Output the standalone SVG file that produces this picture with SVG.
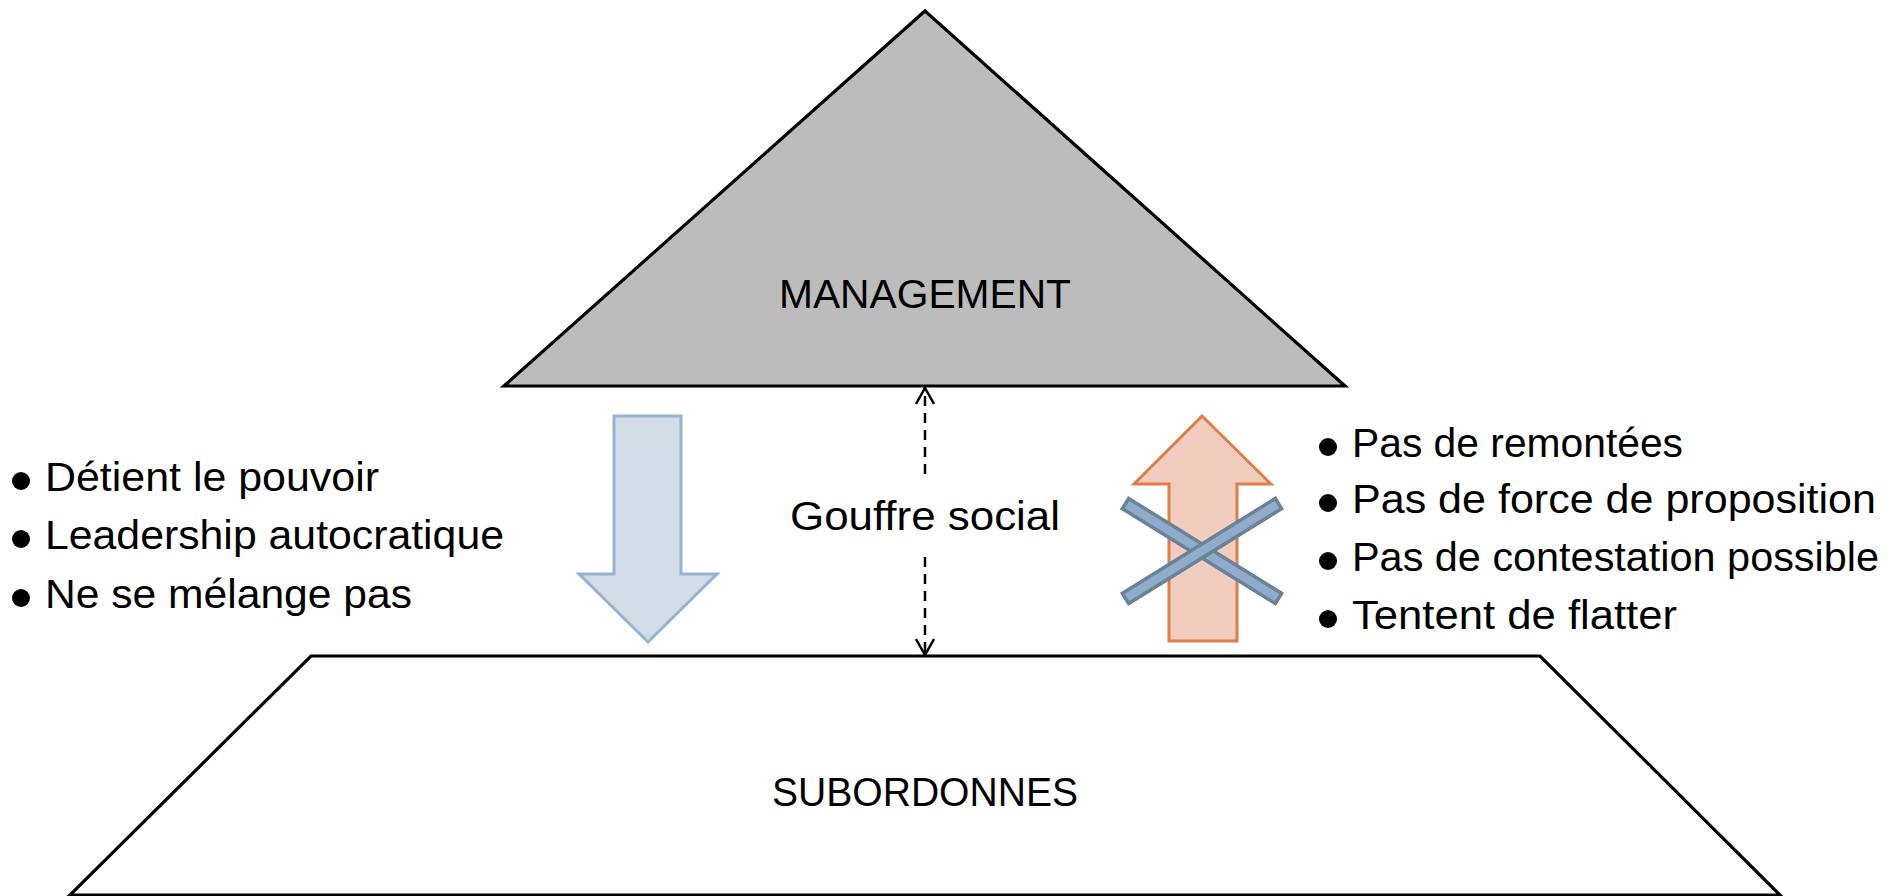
<svg xmlns="http://www.w3.org/2000/svg" width="1901" height="896" viewBox="0 0 1901 896">
<defs>
<style>
text{font-family:"Liberation Sans","DejaVu Sans",sans-serif;fill:#000;}
.lbl{font-size:40px;text-anchor:middle;}
.bul{font-size:41px;}
.shape{stroke:#000;stroke-width:3.2;stroke-linejoin:miter;}
.dash{stroke:#000;stroke-width:2.5;stroke-dasharray:10 7;fill:none;}
.bar{fill:#8fadcb;stroke:#6a8399;stroke-width:3.5;}
</style>
<marker id="chev" viewBox="0 0 20 20" refX="18" refY="10" markerWidth="20" markerHeight="20" markerUnits="userSpaceOnUse" orient="auto-start-reverse">
<path d="M2,1 L18,10 L2,19" fill="none" stroke="#000" stroke-width="2.5"/>
</marker>
</defs>
<rect width="1901" height="896" fill="#fff"/>
<g id="management">
<polygon class="shape" points="925,11 1345,386 504,386" fill="#bcbcbc"/>
<text class="lbl" x="925" y="308" textLength="292" lengthAdjust="spacingAndGlyphs">MANAGEMENT</text>
</g>
<g id="subordonnes">
<polygon class="shape" points="311,656 1540,656 1780,895 70,895" fill="#fff"/>
<text class="lbl" x="925" y="806" textLength="306" lengthAdjust="spacingAndGlyphs">SUBORDONNES</text>
</g>
<g id="arrow-down">
<polygon points="614,416 681,416 681,574 717,574 648,642 579,574 614,574" fill="#d3dde8" stroke="#95b3d2" stroke-width="3"/>
</g>
<g id="arrow-up">
<polygon points="1202,416 1271,484 1237,484 1237,641 1169,641 1169,484 1134,484" fill="#f2cdbf" stroke="#e07e48" stroke-width="3"/>
</g>
<g id="cross">
<rect class="bar" x="1112" y="545" width="180" height="12" transform="rotate(31.8 1202 551)"/>
<rect class="bar" x="1112" y="545" width="180" height="12" transform="rotate(-31.8 1202 551)"/>
</g>
<g id="connectors">
<line class="dash" x1="925" y1="474" x2="925" y2="388" marker-end="url(#chev)"/>
<line class="dash" x1="925" y1="557" x2="925" y2="655" marker-end="url(#chev)"/>
</g>
<g id="gap-label">
<text class="lbl" x="925" y="530" font-size="39" textLength="270" lengthAdjust="spacingAndGlyphs">Gouffre social</text>
</g>
<g id="left-list">
<circle cx="21" cy="481" r="9"/>
<text class="bul" x="45" y="491" textLength="334" lengthAdjust="spacingAndGlyphs">Détient le pouvoir</text>
<circle cx="21" cy="539" r="9"/>
<text class="bul" x="45" y="549" textLength="459" lengthAdjust="spacingAndGlyphs">Leadership autocratique</text>
<circle cx="21" cy="598" r="9"/>
<text class="bul" x="45" y="608" textLength="367" lengthAdjust="spacingAndGlyphs">Ne se mélange pas</text>
</g>
<g id="right-list">
<circle cx="1328" cy="447" r="9"/>
<text class="bul" x="1352" y="457" textLength="331" lengthAdjust="spacingAndGlyphs">Pas de remontées</text>
<circle cx="1328" cy="503" r="9"/>
<text class="bul" x="1352" y="513" textLength="524" lengthAdjust="spacingAndGlyphs">Pas de force de proposition</text>
<circle cx="1328" cy="561" r="9"/>
<text class="bul" x="1352" y="571" textLength="527" lengthAdjust="spacingAndGlyphs">Pas de contestation possible</text>
<circle cx="1328" cy="619" r="9"/>
<text class="bul" x="1352" y="629" textLength="325" lengthAdjust="spacingAndGlyphs">Tentent de flatter</text>
</g>
</svg>
